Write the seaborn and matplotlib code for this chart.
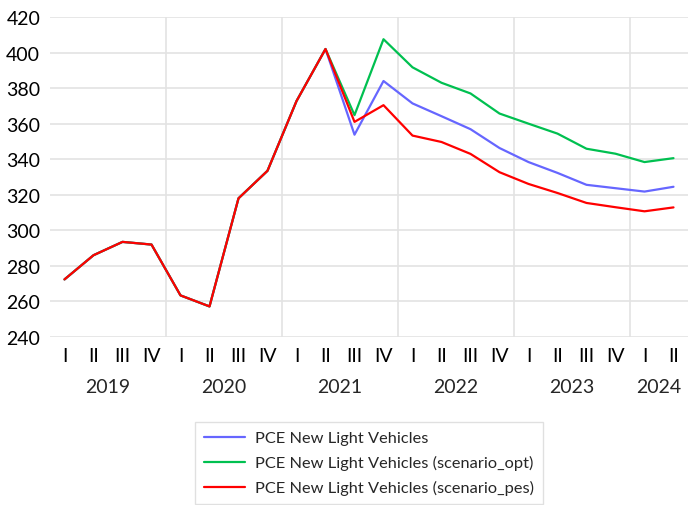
import matplotlib
matplotlib.use("Agg")
import matplotlib.pyplot as plt
import matplotlib.transforms as mtransforms
import seaborn as sns
import pandas as pd
import numpy as np

quarters = ["I", "II", "III", "IV"] * 5 + ["I", "II"]
years = ["2019", "2020", "2021", "2022", "2023", "2024"]

base = [272.4, 286, 293.5, 292, 263.4, 257.2, 318, 333.5, 372.7, 402]
blue_tail = [353.8, 384, 371.4, 364.2, 356.9, 346.3, 338.4, 332.3, 325.6, 323.7, 321.8, 324.5]
green_tail = [364.8, 407.5, 391.7, 383, 377, 365.7, 360, 354.4, 345.9, 343.1, 338.4, 340.6]
red_tail = [361, 370.4, 353.3, 349.7, 343, 332.7, 326.1, 321, 315.4, 313, 310.7, 312.9]

series_names = ["PCE New Light Vehicles",
                "PCE New Light Vehicles (scenario_opt)",
                "PCE New Light Vehicles (scenario_pes)"]
series_vals = [base + blue_tail, base + green_tail, base + red_tail]
colors = ["#6666FF", "#00C050", "#FF0000"]

rows = []
for name, vals in zip(series_names, series_vals):
    for i, v in enumerate(vals):
        rows.append({"idx": i, "value": v, "series": name})
df = pd.DataFrame(rows)

sns.set_style("white")
plt.rcParams["font.family"] = ["Lato", "DejaVu Sans"]

fig = plt.figure(figsize=(6.88, 5.06), dpi=100)
ax = fig.add_axes([50/688, 1 - 338/506, 638/688, 320/506])

sns.lineplot(data=df, x="idx", y="value", hue="series", hue_order=series_names,
             palette=colors, linewidth=1.6, ax=ax, legend=True)

ax.set_xlim(-0.5, len(quarters) - 0.5)
ax.set_ylim(240, 420)
ax.set_yticks(np.arange(240, 421, 20))
ax.yaxis.grid(True, color="#E3E3E3", linewidth=1.2)
ax.set_axisbelow(True)
for xb in [3.5, 7.5, 11.5, 15.5, 19.5]:
    ax.axvline(xb, color="#E3E3E3", linewidth=1.2, zorder=0)
for s in ax.spines.values():
    s.set_visible(False)

ax.set_xticks(range(len(quarters)))
ax.set_xticklabels(quarters)
ax.tick_params(axis="both", length=0, labelsize=14, colors="black")
ax.tick_params(axis="x", pad=7)
ax.tick_params(axis="y", pad=7)
ax.set_xlabel("")
ax.set_ylabel("")

trans = mtransforms.blended_transform_factory(ax.transData, fig.transFigure)
starts = [0, 4, 8, 12, 16, 20]
for yr, st in zip(years, starts):
    n = 4 if st < 20 else 2
    ax.text(st + (n - 1) / 2, 1 - 388/506, yr, transform=trans, ha="center",
            va="center", fontsize=14)

h, l = ax.get_legend_handles_labels()
ax.get_legend().remove()
leg = fig.legend(h, l, loc="upper left", bbox_to_anchor=(195/688, 1 - 423/506),
                 fontsize=11.8, frameon=True, fancybox=False, edgecolor="#D9D9D9",
                 handlelength=2.5, handletextpad=0.6, borderpad=0.55,
                 labelspacing=0.6, borderaxespad=0)
leg.get_frame().set_linewidth(1.0)

fig.savefig("out.png", dpi=100)
